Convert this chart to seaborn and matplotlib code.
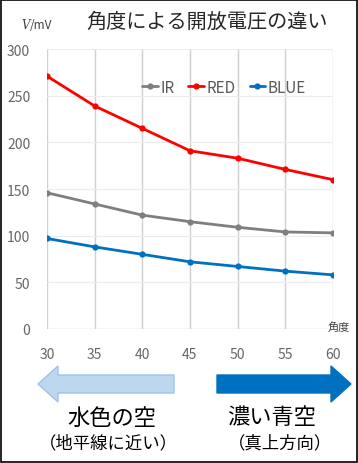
import pandas as pd
import numpy as np
import matplotlib
matplotlib.use("Agg")
import matplotlib.pyplot as plt
import seaborn as sns
from matplotlib.patches import FancyArrow, Rectangle

# データ
angles = [30, 35, 40, 45, 50, 55, 60]
ir = [146, 134, 122, 115, 109, 104, 103]
red = [271, 239, 215, 191, 183, 171, 160]
blue = [97, 88, 80, 72, 67, 62, 58]
series_names = ["IR", "RED", "BLUE"]
series_colors = ["#7f7f7f", "#ff0000", "#0070c0"]
y_ticks = [0, 50, 100, 150, 200, 250, 300]

df = pd.DataFrame({"角度": angles, "IR": ir, "RED": red, "BLUE": blue})
long_df = df.melt(id_vars="角度", var_name="series", value_name="電圧")

sns.set_theme(style="white")
plt.rcParams["font.family"] = ["Noto Sans CJK JP", "DejaVu Sans"]

fig = plt.figure(figsize=(3.58, 4.64), dpi=100)
ax = fig.add_axes([0.131, 0.2888, 0.799, 0.6034])

sns.lineplot(data=long_df, x="角度", y="電圧", hue="series",
             hue_order=series_names, palette=series_colors,
             marker="o", markersize=4.5, markeredgewidth=0,
             linewidth=2.0, ax=ax)

ax.set_xlim(30, 60)
ax.set_ylim(0, 300)
ax.set_xticks(angles)
ax.set_yticks(y_ticks)
ax.set_xlabel("")
ax.set_ylabel("")
for s in ax.spines.values():
    s.set_visible(False)
ax.grid(axis="x", color="#d0d0d0", linewidth=1.0)
ax.grid(axis="y", color="#ececec", linewidth=0.8)
ax.axhline(0, color="#d9d9d9", linewidth=1.0, zorder=0)
ax.tick_params(axis="x", length=0, pad=13, labelsize=10, labelcolor="#666666")
ax.tick_params(axis="y", length=0, pad=12, labelsize=10, labelcolor="#666666")

leg = ax.legend(loc="center", bbox_to_anchor=(0.62, 0.864), ncol=3,
                frameon=False, handlelength=1.0, handletextpad=0.2,
                columnspacing=0.9, fontsize=11)
for t in leg.get_texts():
    t.set_color("#595959")

# タイトルと軸ラベル
fig.text(0.578, 0.952, "角度による開放電圧の違い", ha="center", va="center",
         fontsize=14.5, color="#262626")
fig.text(0.072, 0.945, "V", ha="center", va="center", fontsize=8.5,
         style="italic", color="#404040", family="DejaVu Serif")
fig.text(0.083, 0.945, "/mV", ha="left", va="center", fontsize=8.5,
         color="#404040")
fig.text(0.945, 0.295, "角度", ha="center", va="center", fontsize=8,
         color="#404040")

# 矢印
fig.patches.append(FancyArrow(174 / 358, 1 - 385 / 464, -136 / 358, 0,
                              width=18 / 464, head_width=36 / 464,
                              head_length=20 / 358, length_includes_head=True,
                              transform=fig.transFigure, facecolor="#bdd7ee",
                              edgecolor="#9dc3e6", linewidth=1.0))
fig.patches.append(FancyArrow(217 / 358, 1 - 385 / 464, 134 / 358, 0,
                              width=18 / 464, head_width=36 / 464,
                              head_length=20 / 358, length_includes_head=True,
                              transform=fig.transFigure, facecolor="#0070c0",
                              edgecolor="#0070c0", linewidth=1.0))

fig.text(112 / 358, 1 - 418 / 464, "水色の空", ha="center", va="center",
         fontsize=16, color="black")
fig.text(108 / 358, 1 - 443 / 464, "（地平線に近い）", ha="center", va="center",
         fontsize=12.5, color="black")
fig.text(272 / 358, 1 - 418 / 464, "濃い青空", ha="center", va="center",
         fontsize=16, color="black")
fig.text(280 / 358, 1 - 443 / 464, "（真上方向）", ha="center", va="center",
         fontsize=12.5, color="black")

# 外枠
fig.patches.append(Rectangle((0.002, 0.002), 0.996, 0.996, transform=fig.transFigure,
                             fill=False, edgecolor="black", linewidth=1.2))

fig.savefig("out.png", dpi=100)
